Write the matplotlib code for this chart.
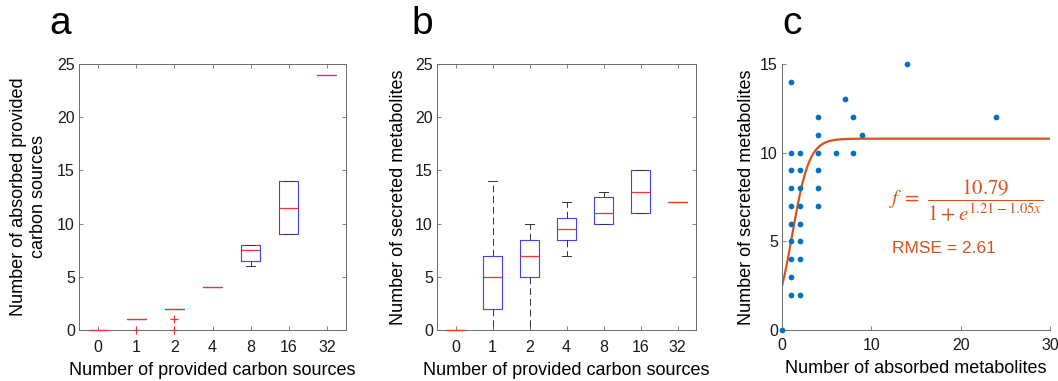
import numpy as np
import matplotlib
matplotlib.use("Agg")
import matplotlib.pyplot as plt

plt.rcParams['font.family'] = ['Liberation Sans', 'DejaVu Sans']
plt.rcParams['mathtext.fontset'] = 'stix'

# ---------------- data ----------------
categories = ['0', '1', '2', '4', '8', '16', '32']

# panel a: absorbed provided carbon sources (box stats)
a_med = [0, 1, 2, 4, 7.5, 11.5, 24]
a_q1 = [0, 1, 2, 4, 6.5, 9, 24]
a_q3 = [0, 1, 2, 4, 8, 14, 24]
a_lo = [0, 1, 2, 4, 6, 9, 24]
a_hi = [0, 1, 2, 4, 8, 14, 24]
a_fliers = [[], [0], [1, 0], [], [], [], []]

# panel b: secreted metabolites (box stats)
b_med = [0, 5, 7, 9.5, 11, 13, 12]
b_q1 = [0, 2, 5, 8.5, 10, 11, 12]
b_q3 = [0, 7, 8.5, 10.5, 12.5, 15, 12]
b_lo = [0, 0, 0, 7, 10, 11, 12]
b_hi = [0, 14, 10, 12, 13, 15, 12]
b_fliers = [[], [], [], [], [], [], []]

# panel c: absorbed vs secreted metabolites
c_x = [0,
       1, 1, 1, 1, 1, 1, 1, 1, 1, 1,
       2, 2, 2, 2, 2, 2, 2, 2,
       4, 4, 4, 4, 4, 4,
       6, 7, 8, 8, 9, 14, 24]
c_y = [0,
       14, 10, 9, 8, 7, 6, 5, 4, 3, 2,
       10, 9, 8, 7, 6, 5, 4, 2,
       12, 11, 10, 9, 8, 7,
       10, 13, 12, 10, 11, 15, 12]
fit_L, fit_a, fit_b = 10.79, 1.21, 1.05

BLUE = '#0072BD'
ORANGE = '#D95319'
SPINE = '#6b6b6b'

fig = plt.figure(figsize=(10.58, 3.81), dpi=100)
W, H = 1058, 381


def ax_rect(l, r, t, b):
    return [l / W, 1 - b / H, (r - l) / W, (b - t) / H]


def draw_box(ax, med, q1, q3, lo, hi, fl):
    stats = []
    for i in range(len(med)):
        stats.append(dict(med=med[i], q1=q1[i], q3=q3[i], whislo=lo[i],
                          whishi=hi[i], fliers=fl[i]))
    art = ax.bxp(stats, positions=np.arange(1, len(med) + 1), widths=0.5,
                 showfliers=True,
                 boxprops=dict(color='#4040ff', lw=0.8),
                 medianprops=dict(color='#ff3030', lw=0.9),
                 whiskerprops=dict(color='#333333', lw=0.7, linestyle=(0, (7, 4))),
                 capprops=dict(color='#333333', lw=0.7),
                 capwidths=0.25,
                 flierprops=dict(marker='+', markeredgecolor='#ff3030',
                                 markersize=6, markeredgewidth=0.9,
                                 linestyle='none'))
    for key in ('medians', 'fliers', 'boxes'):
        for a in art[key]:
            a.set_clip_on(False)
    for a in art['medians']:
        a.set_zorder(4)
    ax.set_xlim(0.5, len(med) + 0.5)
    ax.set_ylim(0, 25)
    ax.set_xticks(np.arange(1, len(med) + 1))
    ax.set_xticklabels(categories)
    ax.set_yticks([0, 5, 10, 15, 20, 25])
    for s in ax.spines.values():
        s.set_color(SPINE)
        s.set_linewidth(0.7)
    ax.tick_params(direction='in', top=True, right=True, length=3,
                   color=SPINE, width=0.6, labelsize=11.5, labelcolor='#1a1a1a')
    ax.tick_params(axis='y', pad=3)
    ax.tick_params(axis='x', pad=7)


# ---- panel a ----
axa = fig.add_axes(ax_rect(79, 346, 64, 330))
draw_box(axa, a_med, a_q1, a_q3, a_lo, a_hi, a_fliers)
axa.set_xlabel('Number of provided carbon sources', fontsize=13, labelpad=5)
axa.set_ylabel('Number of absorbed provided\ncarbon sources', fontsize=13,
               labelpad=7, linespacing=1.25)

# ---- panel b ----
axb = fig.add_axes(ax_rect(437, 696, 64, 330))
draw_box(axb, b_med, b_q1, b_q3, b_lo, b_hi, b_fliers)
axb.set_xlabel('Number of provided carbon sources', fontsize=13, labelpad=5)
axb.set_ylabel('Number of secreted metabolites', fontsize=13, labelpad=6)

# ---- panel c ----
axc = fig.add_axes(ax_rect(782, 1050, 64, 330))
axc.scatter(c_x, c_y, s=17, color=BLUE, zorder=3, clip_on=False, linewidths=0)
xf = np.linspace(0, 30, 400)
axc.plot(xf, fit_L / (1 + np.exp(fit_a - fit_b * xf)), color=ORANGE, lw=1.6)
axc.set_xlim(0, 30)
axc.set_ylim(0, 15)
axc.set_xticks([0, 10, 20, 30])
axc.set_yticks([0, 5, 10, 15])
for side in ('top', 'right'):
    axc.spines[side].set_visible(False)
for side in ('left', 'bottom'):
    axc.spines[side].set_color(SPINE)
    axc.spines[side].set_linewidth(0.7)
axc.tick_params(direction='in', length=3, color=SPINE, width=0.6,
                labelsize=11.5, labelcolor='#1a1a1a')
axc.tick_params(axis='y', pad=3)
axc.tick_params(axis='x', pad=6)
axc.set_xlabel('Number of absorbed metabolites', fontsize=13, labelpad=5)
axc.set_ylabel('Number of secreted metabolites', fontsize=13, labelpad=4)
axc.text(0.685, 0.49, r'$f\ =\ \dfrac{10.79}{1+e^{1.21-1.05x}}$',
         transform=axc.transAxes, color=ORANGE, fontsize=15,
         ha='center', va='center')
axc.text(0.41, 0.305, 'RMSE = 2.61', transform=axc.transAxes, color=ORANGE,
         fontsize=12.5, ha='left', va='center')

# panel letters
for lab, xp in (('a', 60), ('b', 422), ('c', 792)):
    fig.text(xp / W, 1 - 24 / H, lab, fontsize=28, ha='center', va='center',
             color='black')

fig.savefig('out.png', dpi=100, facecolor='white')
